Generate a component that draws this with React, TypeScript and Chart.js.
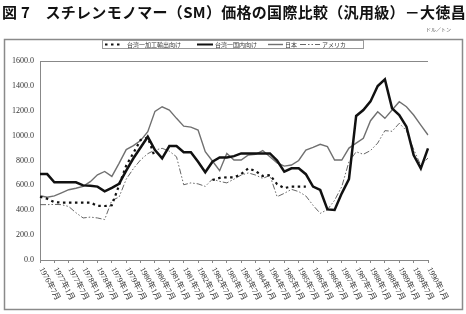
import React, { useEffect, useRef } from 'react';
import { Chart, registerables } from 'chart.js';

Chart.register(...registerables);

const TITLE = '図 7　スチレンモノマー（SM）価格の国際比較（汎用級）－大徳昌';
const UNIT = 'ドル／トン';

const quarters = [
  '1976年7月', '1976年10月', '1977年1月', '1977年4月', '1977年7月', '1977年10月',
  '1978年1月', '1978年4月', '1978年7月', '1978年10月', '1979年1月', '1979年4月',
  '1979年7月', '1979年10月', '1980年1月', '1980年4月', '1980年7月', '1980年10月',
  '1981年1月', '1981年4月', '1981年7月', '1981年10月', '1982年1月', '1982年4月',
  '1982年7月', '1982年10月', '1983年1月', '1983年4月', '1983年7月', '1983年10月',
  '1984年1月', '1984年4月', '1984年7月', '1984年10月', '1985年1月', '1985年4月',
  '1985年7月', '1985年10月', '1986年1月', '1986年4月', '1986年7月', '1986年10月',
  '1987年1月', '1987年4月', '1987年7月', '1987年10月', '1988年1月', '1988年4月',
  '1988年7月', '1988年10月', '1989年1月', '1989年4月', '1989年7月', '1989年10月',
  '1990年1月',
];

const seriesNames = ['台湾一加工輸出向け', '台湾一国内向け', '日本', 'アメリカ'];

const taiwanExport = [
  509, 492, 465, 462, 462, 462, 462, 462, 436, 434, 440, 600,
  760, 860, 965, 985, 825, null, null, null, null, null, null, null,
  643, 660, 665, 665, 691, 737, 715, 675, 683, 610, 578, 590,
  590, 590, null, null, null, null, null, null, null, null, null, null,
  null, null, null, null, null, null, null,
];

const taiwanDomestic = [
  691, 691, 625, 625, 625, 625, 600, 597, 590, 552, 580, 612,
  718, 818, 905, 991, 884, 817, 916, 916, 866, 866, 790, 705,
  790, 825, 825, 835, 857, 857, 857, 857, 857, 800, 710, 737,
  737, 690, 590, 563, 407, 402, 536, 650, 1158, 1206, 1275, 1399,
  1452, 1219, 1166, 1072, 844, 737, 898,
];

const japan = [
  517, 505, 515, 540, 565, 577, 592, 630, 685, 712, 672, 777,
  888, 920, 960, 1031, 1195, 1232, 1206, 1139, 1076, 1068, 1045, 871,
  796, 718, 857, 804, 804, 844, 850, 880, 830, 780, 755, 764,
  800, 884, 905, 930, 911, 804, 804, 900, 940, 978, 1120, 1192,
  1139, 1206, 1273, 1232, 1166, 1085, 1005,
];

const usa = [
  445, 445, 447, 445, 430, 380, 338, 345, 338, 325, 480, 505,
  650, 735, 805, 855, 884, 898, 875, 830, 605, 620, 612, 592,
  650, 632, 620, 650, 683, 700, 683, 656, 680, 509, 536, 568,
  550, 515, 440, 375, 405, 480, 590, 790, 870, 850, 880, 940,
  1040, 1035, 1099, 1040, 890, 760, 820,
];

const Y_MAX = 1600;
const Y_STEP = 200;

const decorPlugin = {
  id: 'decor',
  beforeDraw(chart: any) {
    const ctx = chart.ctx;
    ctx.save();
    ctx.fillStyle = '#ffffff';
    ctx.fillRect(0, 0, chart.width, chart.height);
    ctx.strokeStyle = '#8a8a8a';
    ctx.lineWidth = 1.5;
    ctx.strokeRect(4.5, 39.5, 458, 270);
    ctx.restore();
  },
  afterDraw(chart: any) {
    const ctx = chart.ctx;
    const xs = chart.scales.x;
    ctx.save();
    // rotated x labels
    ctx.font = '8px "Liberation Serif", "Noto Sans CJK JP", serif';
    ctx.fillStyle = '#333';
    ctx.textAlign = 'left';
    ctx.textBaseline = 'middle';
    (chart.data.labels as string[]).forEach((lab, i) => {
      if (i % 2 !== 0) return;
      const px = xs.getPixelForValue(i);
      ctx.save();
      ctx.translate(px + 1, xs.top + 8);
      ctx.rotate((62 * Math.PI) / 180);
      ctx.fillText(lab, 0, 0);
      ctx.restore();
    });
    // unit
    ctx.font = '5px "Noto Sans CJK JP", sans-serif';
    ctx.fillStyle = '#555';
    ctx.textBaseline = 'middle';
    ctx.fillText(UNIT, 426, 29);
    // legend
    ctx.strokeStyle = '#999';
    ctx.lineWidth = 1;
    ctx.strokeRect(102.5, 40.5, 261, 8);
    const sampleX = [[105, 123], [197, 213], [268, 283], [300, 320]];
    const textX = [127, 215, 285, 322];
    const ly = 44.5;
    chart.data.datasets.forEach((ds: any, i: number) => {
      ctx.save();
      ctx.strokeStyle = ds.borderColor;
      ctx.lineWidth = Math.min(ds.borderWidth, 2);
      ctx.setLineDash(ds.borderDash || []);
      ctx.beginPath();
      ctx.moveTo(sampleX[i][0], ly);
      ctx.lineTo(sampleX[i][1], ly);
      ctx.stroke();
      ctx.restore();
      ctx.font = '6px "Noto Sans CJK JP", sans-serif';
      ctx.fillStyle = '#333';
      ctx.fillText(ds.label, textX[i], ly);
    });
    ctx.restore();
  },
};

export default function App() {
  const ref = useRef<HTMLCanvasElement>(null);

  useEffect(() => {
    const chart = new Chart(ref.current as HTMLCanvasElement, {
      type: 'line',
      data: {
        labels: quarters,
        datasets: [
          {
            label: seriesNames[0],
            data: taiwanExport,
            borderColor: '#111',
            borderWidth: 2.2,
            borderDash: [2.5, 3.5],
            spanGaps: false,
          },
          {
            label: seriesNames[1],
            data: taiwanDomestic,
            borderColor: '#111',
            borderWidth: 2.5,
          },
          {
            label: seriesNames[2],
            data: japan,
            borderColor: '#707070',
            borderWidth: 1.4,
          },
          {
            label: seriesNames[3],
            data: usa,
            borderColor: '#666',
            borderWidth: 1,
            borderDash: [6, 2, 1.5, 2, 1.5, 2],
          },
        ] as any,
      },
      options: {
        animation: false,
        responsive: false,
        layout: { padding: { left: 0, top: 61, right: 38, bottom: 0 } },
        plugins: { legend: { display: false }, tooltip: { enabled: false }, title: { display: false } },
        elements: { point: { radius: 0 }, line: { tension: 0, fill: false } },
        scales: {
          x: {
            type: 'category',
            offset: false,
            grid: {
              drawOnChartArea: false,
              tickLength: 3,
              color: (c: any) => (c.index % 2 === 0 ? '#888' : 'rgba(0,0,0,0)'),
            },
            border: { color: '#888', width: 1 },
            ticks: { display: false, autoSkip: false },
            afterFit: (s: any) => {
              s.height = 54;
            },
          },
          y: {
            min: 0,
            max: Y_MAX,
            ticks: {
              stepSize: Y_STEP,
              padding: 6,
              color: '#333',
              font: { family: '"Liberation Serif", serif', size: 8 },
              callback: (v: any) => Number(v).toFixed(1),
            },
            grid: {
              drawTicks: false,
              color: (c: any) => (c.tick && c.tick.value === Y_MAX ? '#888' : 'rgba(0,0,0,0)'),
            },
            border: { color: '#888', width: 1 },
            afterFit: (s: any) => {
              s.width = 40;
            },
          },
        },
      } as any,
      plugins: [decorPlugin],
    });
    return () => chart.destroy();
  }, []);

  return (
    <div style={{ position: 'absolute', left: 0, top: 0, width: 466, height: 314, background: '#fff', overflow: 'hidden' }}>
      <canvas ref={ref} width={466} height={314} style={{ position: 'absolute', left: 0, top: 0, width: 466, height: 314 }} />
      <div
        style={{
          position: 'absolute',
          left: 2,
          top: 4,
          fontFamily: '"Noto Sans CJK JP", sans-serif',
          fontSize: 15,
          lineHeight: '16px',
          fontWeight: 700,
          letterSpacing: '0.3px',
          whiteSpace: 'nowrap',
          color: '#111',
        }}
      >
        {TITLE}
      </div>
    </div>
  );
}
